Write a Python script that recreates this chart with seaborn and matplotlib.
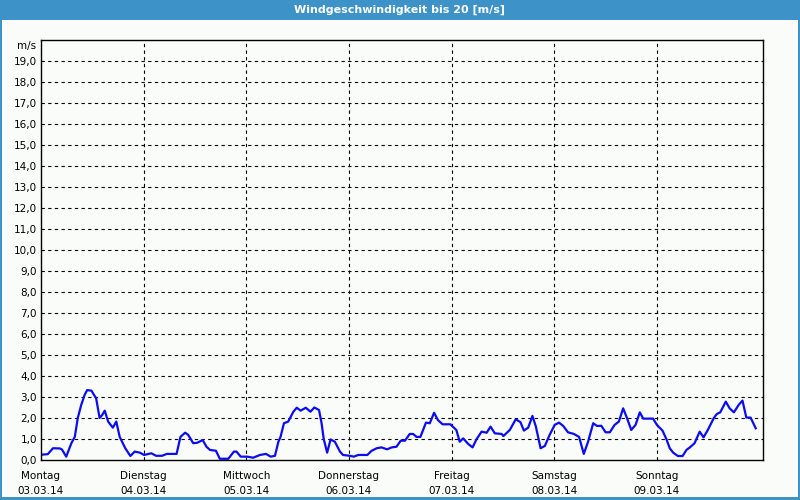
import matplotlib.pyplot as plt
import matplotlib.patches as patches
import pandas as pd
import seaborn as sns

# Stunden ab Montag 00:00 und Windgeschwindigkeit in m/s
stunden = [
    0, 1.6, 2.8, 4.4, 4.9, 5.9, 7.1, 7.9, 8.6, 9.4, 10.2, 10.8, 11.8, 12.9, 13.7,
    14.3, 14.9, 15.7, 16.8, 17.6, 18.4, 19.7, 20.9, 21.9, 23.1, 24.1, 25.8, 26.9,
    28.3, 29.4, 31.7, 32.6, 33.7, 34.4, 35.6, 36.5, 37.8, 38.7, 39.5, 40.9, 41.8,
    43.8, 45.1, 45.7, 46.7, 48.2, 49.6, 51.2, 52.6, 53.7, 54.7, 55.5, 56.0, 56.8,
    57.8, 59.0, 59.8, 60.7, 61.9, 63.0, 63.9, 65.0, 65.6, 66.1, 66.9, 67.7, 68.7,
    69.9, 70.6, 72.2, 73.1, 74.2, 76.3, 77.3, 78.5, 79.6, 80.9, 82.0, 83.1, 84.1,
    85.1, 86.2, 87.0, 87.8, 88.7, 90.0, 90.9, 91.9, 92.8, 93.9, 95.7, 97.1, 97.9,
    98.7, 99.9, 100.9, 101.8, 103.0, 104.2, 105.1, 106.1, 107.7, 108.1, 109.6,
    111.0, 112.1, 112.9, 113.9, 114.9, 115.7, 116.8, 117.8, 118.9, 120.1, 121.1,
    122.1, 123.2, 124.6, 125.8, 126.9, 127.9, 129.1, 130.0, 131.0, 132.0, 133.0,
    134.1, 135.1, 136.1, 137.0, 138.0, 139.0, 140.0, 140.8, 143.1, 144.0, 145.3,
    146.2, 147.0, 147.8, 148.9, 150.0, 150.9, 151.7, 152.8, 154.0, 154.9, 155.9,
    157.3, 158.0, 158.8, 160.1, 161.0, 162.0, 163.1, 164.0, 164.9, 165.9, 167.1,
]
wind = [
    0.25, 0.28, 0.56, 0.55, 0.5, 0.16, 0.8, 1.1, 2.0, 2.62, 3.1, 3.33, 3.3, 2.93, 2.0,
    2.14, 2.35, 1.83, 1.54, 1.83, 1.1, 0.56, 0.19, 0.4, 0.35, 0.24, 0.32, 0.2,
    0.2, 0.29, 0.29, 1.1, 1.3, 1.2, 0.8, 0.82, 0.95, 0.63, 0.48, 0.44, 0.06,
    0.06, 0.4, 0.4, 0.16, 0.16, 0.11, 0.24, 0.29, 0.16, 0.2, 0.87, 1.1, 1.75,
    1.83, 2.3, 2.49, 2.35, 2.49, 2.3, 2.5, 2.38, 1.75, 1.0, 0.35, 0.98, 0.87,
    0.4, 0.24, 0.2, 0.16, 0.24, 0.24, 0.44, 0.56, 0.6, 0.51, 0.6, 0.63, 0.92,
    0.92, 1.24, 1.24, 1.1, 1.1, 1.78, 1.75, 2.25, 1.9, 1.7, 1.7, 1.43, 0.87,
    1.03, 0.76, 0.6, 0.98, 1.35, 1.3, 1.59, 1.27, 1.24, 1.14, 1.43,
    1.94, 1.8, 1.4, 1.54, 2.1, 1.59, 0.56, 0.67, 1.19, 1.67, 1.78,
    1.62, 1.32, 1.24, 1.1, 0.29, 0.87, 1.75, 1.62, 1.63, 1.32, 1.32,
    1.67, 1.83, 2.46, 2.0, 1.43, 1.67, 2.27, 1.97, 1.97, 1.67, 1.4,
    1.0, 0.56, 0.35, 0.19, 0.19, 0.48, 0.6, 0.8, 1.35, 1.08, 1.43,
    2.0, 2.19, 2.27, 2.78, 2.46, 2.27, 2.62, 2.83, 2.02, 2.02, 1.51,
]
tage = ['Montag', 'Dienstag', 'Mittwoch', 'Donnerstag', 'Freitag', 'Samstag', 'Sonntag']
daten = ['03.03.14', '04.03.14', '05.03.14', '06.03.14', '07.03.14', '08.03.14', '09.03.14']

df = pd.DataFrame({'Stunde': stunden, 'Wind': wind})

hintergrund = '#f9fcf9'
blau_rahmen = '#3d92c8'

fig = plt.figure(figsize=(8, 5), dpi=100, facecolor=hintergrund)
ax = fig.add_axes([41 / 800, 40 / 500, 722 / 800, 420 / 500])
ax.set_facecolor(hintergrund)

sns.lineplot(data=df, x='Stunde', y='Wind', color='#0c0cf0', linewidth=1.6, ax=ax)

ax.set_xlim(0, 168.8)
ax.set_ylim(0, 20)

# Gitter
ax.set_yticks(range(0, 20))
ax.set_yticklabels([f'{v},0' for v in range(0, 20)])
ax.set_xticks([24 * i for i in range(len(tage))])
ax.set_xticklabels([f'{t}\n{d}' for t, d in zip(tage, daten)], linespacing=1.6)
for v in range(1, 20):
    ax.axhline(v, color='black', linestyle=(0, (3, 3)), linewidth=0.8, zorder=0)
for i in range(1, len(tage)):
    ax.axvline(24 * i, color='black', linestyle=(0, (3, 3)), linewidth=0.8, zorder=0)

ax.tick_params(axis='both', length=0, labelsize=7.5, colors='black')
ax.tick_params(axis='y', pad=3)
ax.tick_params(axis='x', pad=8)
ax.set_xlabel('')
ax.set_ylabel('')
for s in ax.spines.values():
    s.set_color('black')
    s.set_linewidth(1)

fig.text(36 / 800, 1 - 46 / 500, 'm/s', ha='right', va='center', fontsize=7.5)

# Titelleiste und Rahmen
fig.patches.append(patches.Rectangle((0, 1 - 20 / 500), 1, 20 / 500, transform=fig.transFigure,
                                     facecolor=blau_rahmen, edgecolor='none', zorder=0))
fig.patches.append(patches.Rectangle((0, 0), 2 / 800, 1, transform=fig.transFigure,
                                     facecolor=blau_rahmen, edgecolor='none', zorder=0))
fig.patches.append(patches.Rectangle((1 - 2 / 800, 0), 2 / 800, 1, transform=fig.transFigure,
                                     facecolor=blau_rahmen, edgecolor='none', zorder=0))
fig.patches.append(patches.Rectangle((0, 0), 1, 3 / 500, transform=fig.transFigure,
                                     facecolor=blau_rahmen, edgecolor='none', zorder=0))
fig.text(0.5, 1 - 10 / 500, 'Windgeschwindigkeit bis 20 [m/s]', ha='center', va='center',
         color='white', fontsize=8, fontweight='bold')

fig.savefig('out.png', dpi=100, facecolor=hintergrund)
